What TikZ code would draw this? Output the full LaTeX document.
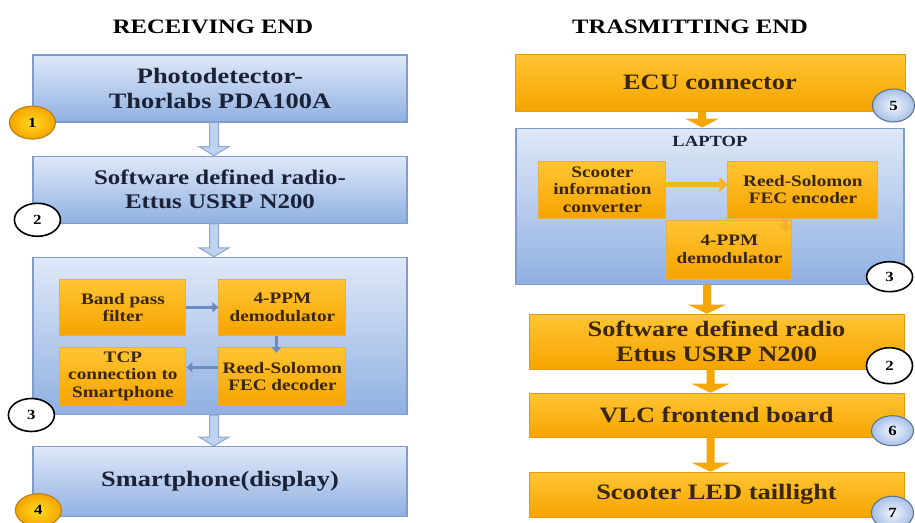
\documentclass[tikz,border=0pt]{standalone}
\usepackage{fontspec}
\setmainfont[FakeStretch=1.2]{Liberation Serif}
\usetikzlibrary{arrows.meta, positioning, shapes.geometric, calc}
\definecolor{rxtop}{HTML}{DFE9F8}
\definecolor{rxbot}{HTML}{90B0E2}
\definecolor{rxline}{HTML}{7E9DCD}
\definecolor{rxtext}{HTML}{1B2238}
\definecolor{rxarrow}{HTML}{6A8CC2}
\definecolor{txtop}{HTML}{FFC533}
\definecolor{txbot}{HTML}{F6A400}
\definecolor{txline}{HTML}{E39A12}
\definecolor{txtext}{HTML}{3A2608}

% block arrow between two stacked boxes: style, from, to, half shaft, half head
\newcommand\flowarrow[5]{%
  \path[#1] let \p1=(#2), \p2=(#3) in
    (\x1-#4,\y1) -- (\x1+#4,\y1) -- (\x1+#4,\y2+9pt) -- (\x1+#5,\y2+9pt)
    -- (\x1,\y2) -- (\x1-#5,\y2+9pt) -- (\x1-#4,\y2+9pt) -- cycle;}

\begin{document}
\begin{tikzpicture}[x=1pt, y=1pt,
  title/.style={font=\fontsize{20.5}{22}\selectfont\bfseries},
  rxbox/.style={rectangle, draw=rxline, line width=1.2pt, top color=rxtop, bottom color=rxbot,
                minimum width=374pt, inner sep=0pt, align=center, text=rxtext,
                font=\fontsize{22}{25}\selectfont\bfseries},
  txbox/.style={rectangle, draw=txline, line width=1pt, top color=txtop, bottom color=txbot,
                minimum width=375pt, inner sep=0pt, align=center, text=txtext,
                font=\fontsize{22}{25}\selectfont\bfseries},
  inbox/.style={rectangle, draw=txline!80, line width=1pt, top color=txtop, bottom color=txbot,
                inner sep=0pt, align=center, text=txtext,
                font=\fontsize{16}{17.5}\selectfont\bfseries},
  rxflow/.style={draw=rxline!90, fill=rxtop!60!rxbot, line width=1pt},
  txflow/.style={fill=txbot!90!txtop},
  rxlink/.style={-{Triangle[width=10pt,length=6pt]}, line width=3.5pt, rxarrow},
  txlink/.style={-{Triangle[width=15pt,length=8pt]}, line width=5pt, txbot!85!white},
  tag/.style={ellipse, minimum width=46pt, minimum height=33pt, inner sep=0pt,
              font=\fontsize{14}{14}\selectfont\bfseries},
  tagorange/.style={tag, draw=txline!80!black, line width=1pt, inner color=txtop!60!yellow, outer color=txbot},
  tagblue/.style={tag, draw=rxline!70!black, line width=1pt, inner color=rxtop!40!white, outer color=rxbot!80},
  tagwhite/.style={tag, draw=black, line width=1.6pt, fill=white}
]
\useasboundingbox (0,0) rectangle (915,-522);

% receiving side
\node[title] (rxtitle) at (213,-27) {RECEIVING END};
\node[rxbox, minimum height=67pt] (pd) at (220,-88.5) {Photodetector-\\Thorlabs PDA100A};
\node[rxbox, minimum height=67pt, below=33pt of pd, font=\fontsize{20.8}{24}\selectfont\bfseries]
  (rxsdr) {Software defined radio-\\Ettus USRP N200};
\node[rxbox, minimum height=157pt, below=33pt of rxsdr] (rxdsp) {};
\node[rxbox, minimum height=70pt, below=31pt of rxdsp] (phone) {Smartphone(display)};

\node[inbox, minimum width=126pt, minimum height=56pt, below right=22pt and 27pt of rxdsp.north west]
  (bpf) {Band pass\\filter};
\node[inbox, minimum width=127pt, minimum height=56pt, right=32pt of bpf] (rxppm) {4-PPM\\demodulator};
\node[inbox, minimum width=126pt, minimum height=58pt, below=11pt of bpf] (tcp) {TCP\\connection to\\Smartphone};
\node[inbox, minimum width=127pt, minimum height=58pt, below=11pt of rxppm] (rsdec) {Reed-Solomon\\FEC decoder};

\draw[rxlink] (bpf.east) -- (rxppm.west);
\draw[rxlink] ([xshift=-6pt]rxppm.south) -- ([xshift=-6pt,yshift=-6pt]rsdec.north);
\draw[rxlink] ([yshift=9pt]rsdec.west) -- ([yshift=9pt]tcp.east);

\flowarrow{rxflow}{[xshift=-6pt]pd.south}{[xshift=-6pt]rxsdr.north}{4.5pt}{15pt}
\flowarrow{rxflow}{[xshift=-6pt]rxsdr.south}{[xshift=-6pt]rxdsp.north}{4.5pt}{15pt}
\flowarrow{rxflow}{[xshift=-6pt]rxdsp.south}{[xshift=-6pt]phone.north}{4.5pt}{15pt}

\node[tagorange] (n1) at (pd.south west) {1};
\node[tagwhite] (n2) at ([xshift=5pt,yshift=4pt]rxsdr.south west) {2};
\node[tagwhite] (n3l) at ([xshift=-1pt]rxdsp.south west) {3};
\node[tagorange] (n4) at ([xshift=6pt,yshift=7pt]phone.south west) {4};

% transmitting side
\node[title] (txtitle) at (690,-27) {TRASMITTING END};
\node[txbox, minimum width=390pt, minimum height=57pt] (ecu) at (710,-82.5) {ECU connector};
\node[rxbox, minimum width=388pt, minimum height=156pt, below=16pt of ecu] (laptop) {};
\node[below=9pt of laptop.north, inner sep=0pt, text=rxtext, font=\fontsize{15.5}{16}\selectfont\bfseries]
  (lbl) {LAPTOP};
\node[inbox, minimum width=127pt, minimum height=57pt, below right=33pt and 23pt of laptop.north west]
  (sic) {Scooter\\information\\converter};
\node[inbox, minimum width=150pt, minimum height=57pt, right=61pt of sic] (rsenc) {Reed-Solomon\\FEC encoder};
\node[inbox, minimum width=125pt, minimum height=59pt, below right=1pt and 0pt of sic.south east]
  (txppm) {4-PPM\\demodulator};

\draw[txlink] ([yshift=5pt]sic.east) -- ([yshift=5pt]rsenc.west);
\draw[txlink] ([xshift=-7pt]rsenc.south -| txppm.east) -- ([xshift=-7pt,yshift=-13pt]txppm.north east);

\node[txbox, minimum height=55pt, below=29pt of laptop, xshift=6.5pt] (txsdr) {Software defined radio\\Ettus USRP N200};
\node[txbox, minimum height=44pt, below=23pt of txsdr] (vlc) {VLC frontend board};
\node[txbox, minimum height=45pt, below=34pt of vlc] (led) {Scooter LED taillight};

\flowarrow{txflow}{[xshift=-8pt]ecu.south}{[xshift=-8pt]laptop.north}{4pt}{17pt}
\flowarrow{txflow}{[xshift=-3pt]laptop.south}{[xshift=-3pt]txsdr.north}{4pt}{19pt}
\flowarrow{txflow}{[xshift=-6pt]txsdr.south}{[xshift=-6pt]vlc.north}{4pt}{19pt}
\flowarrow{txflow}{[xshift=-6pt]vlc.south}{[xshift=-6pt]led.north}{4pt}{19pt}

\node[tagblue, minimum width=42pt] (n5) at ([xshift=-12pt,yshift=6pt]ecu.south east) {5};
\node[tagwhite, minimum height=30pt] (n3r) at ([xshift=-15pt,yshift=8pt]laptop.south east) {3};
\node[tagwhite, minimum height=36pt] (n2r) at ([xshift=-15pt,yshift=4pt]txsdr.south east) {2};
\node[tagblue, minimum width=42pt, minimum height=30pt] (n6) at ([xshift=-12pt,yshift=7pt]vlc.south east) {6};
\node[tagblue, minimum width=42pt] (n7) at ([xshift=-12pt,yshift=5pt]led.south east) {7};
\end{tikzpicture}
\end{document}
